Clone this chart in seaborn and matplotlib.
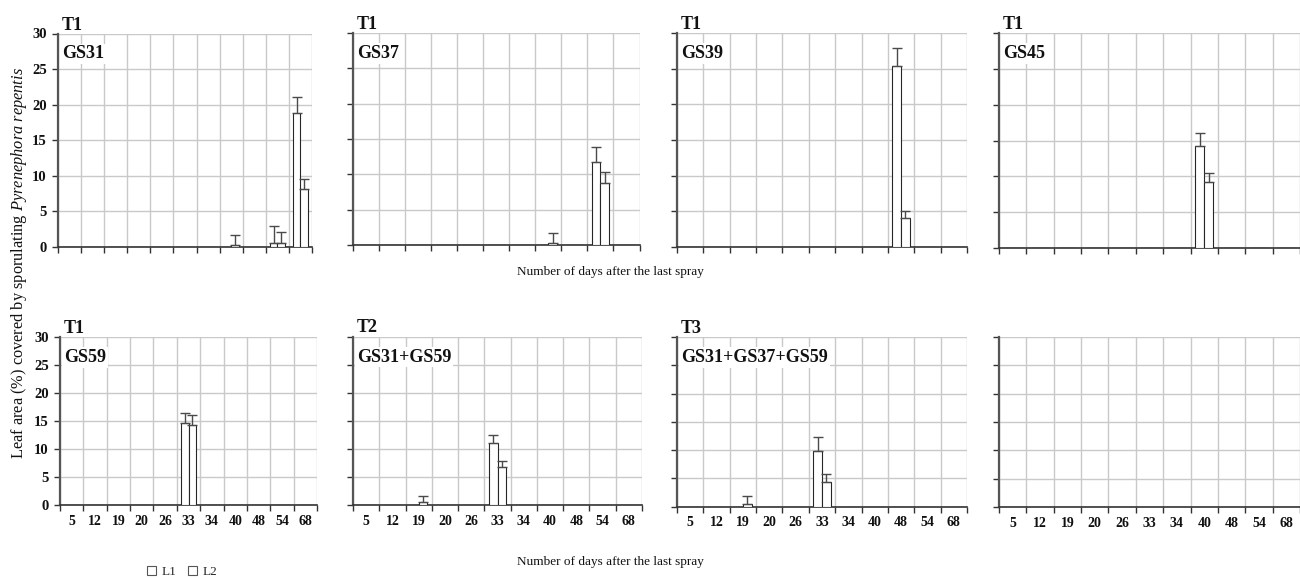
import numpy as np
import pandas as pd
import matplotlib
matplotlib.use("Agg")
import matplotlib.pyplot as plt
from matplotlib.container import BarContainer
import seaborn as sns

# Days after the last spray (categories) and leaf layers
days = ["5", "12", "19", "20", "26", "33", "34", "40", "48", "54", "68"]
leaves = ["L1", "L2"]

# Leaf area (%) covered by sporulating P. repentis, with upper error, per treatment
gs31_l1 = [0, 0, 0, 0, 0, 0, 0, 0, 0, 0.5, 18.8]
gs31_l2 = [0, 0, 0, 0, 0, 0, 0, 0.3, 0, 0.5, 8.1]
gs31_l1_err = [0, 0, 0, 0, 0, 0, 0, 0, 0, 2.5, 2.3]
gs31_l2_err = [0, 0, 0, 0, 0, 0, 0, 1.4, 0, 1.6, 1.5]

gs37_l1 = [0, 0, 0, 0, 0, 0, 0, 0, 0, 11.8, 0]
gs37_l2 = [0, 0, 0, 0, 0, 0, 0, 0.3, 0, 8.8, 0]
gs37_l1_err = [0, 0, 0, 0, 0, 0, 0, 0, 0, 2.1, 0]
gs37_l2_err = [0, 0, 0, 0, 0, 0, 0, 1.4, 0, 1.5, 0]

gs39_l1 = [0, 0, 0, 0, 0, 0, 0, 0, 25.4, 0, 0]
gs39_l2 = [0, 0, 0, 0, 0, 0, 0, 0, 4.0, 0, 0]
gs39_l1_err = [0, 0, 0, 0, 0, 0, 0, 0, 2.5, 0, 0]
gs39_l2_err = [0, 0, 0, 0, 0, 0, 0, 0, 1.1, 0, 0]

gs45_l1 = [0, 0, 0, 0, 0, 0, 0, 14.2, 0, 0, 0]
gs45_l2 = [0, 0, 0, 0, 0, 0, 0, 9.2, 0, 0, 0]
gs45_l1_err = [0, 0, 0, 0, 0, 0, 0, 1.8, 0, 0, 0]
gs45_l2_err = [0, 0, 0, 0, 0, 0, 0, 1.2, 0, 0, 0]

gs59_l1 = [0, 0, 0, 0, 0, 14.6, 0, 0, 0, 0, 0]
gs59_l2 = [0, 0, 0, 0, 0, 14.2, 0, 0, 0, 0, 0]
gs59_l1_err = [0, 0, 0, 0, 0, 1.9, 0, 0, 0, 0, 0]
gs59_l2_err = [0, 0, 0, 0, 0, 1.8, 0, 0, 0, 0, 0]

t2_l1 = [0, 0, 0, 0, 0, 11.1, 0, 0, 0, 0, 0]
t2_l2 = [0, 0, 0.6, 0, 0, 6.7, 0, 0, 0, 0, 0]
t2_l1_err = [0, 0, 0, 0, 0, 1.3, 0, 0, 0, 0, 0]
t2_l2_err = [0, 0, 1.0, 0, 0, 1.1, 0, 0, 0, 0, 0]

t3_l1 = [0, 0, 0, 0, 0, 9.9, 0, 0, 0, 0, 0]
t3_l2 = [0, 0, 0.4, 0, 0, 4.25, 0, 0, 0, 0, 0]
t3_l1_err = [0, 0, 0, 0, 0, 2.4, 0, 0, 0, 0, 0]
t3_l2_err = [0, 0, 1.4, 0, 0, 1.5, 0, 0, 0, 0, 0]

yticks = [0, 5, 10, 15, 20, 25, 30]

panels = [
    ("T1", "GS31", gs31_l1, gs31_l2, gs31_l1_err, gs31_l2_err),
    ("T1", "GS37", gs37_l1, gs37_l2, gs37_l1_err, gs37_l2_err),
    ("T1", "GS39", gs39_l1, gs39_l2, gs39_l1_err, gs39_l2_err),
    ("T1", "GS45", gs45_l1, gs45_l2, gs45_l1_err, gs45_l2_err),
    ("T1", "GS59", gs59_l1, gs59_l2, gs59_l1_err, gs59_l2_err),
    ("T2", "GS31+GS59", t2_l1, t2_l2, t2_l1_err, t2_l2_err),
    ("T3", "GS31+GS37+GS59", t3_l1, t3_l2, t3_l1_err, t3_l2_err),
    None,
]

# axes boxes in pixels: left, top, right, bottom
boxes = [
    (58, 33.5, 312, 247), (353, 33, 639.5, 245), (677, 33, 967, 247), (999, 33, 1300, 248),
    (60, 337, 317, 505), (353, 336.5, 642, 505), (677, 337, 967, 506.5), (999, 337, 1300, 507),
]

W, H = 1300, 579
sns.set_style("white")
plt.rcParams["font.family"] = ["Liberation Serif", "DejaVu Serif"]
plt.rcParams["mathtext.fontset"] = "custom"
plt.rcParams["mathtext.rm"] = "Liberation Serif"
plt.rcParams["mathtext.it"] = "Liberation Serif:italic"

fig = plt.figure(figsize=(W / 100, H / 100), dpi=100)
fig.patch.set_facecolor("white")

grid_c = "#c9c9c9"
axes = []
for k, (panel, (l, t, r, b)) in enumerate(zip(panels, boxes)):
    ax = fig.add_axes([l / W, 1 - b / H, (r - l) / W, (b - t) / H])
    axes.append(ax)
    ax.set_facecolor("white")
    if panel is not None:
        trt, stage, v1, v2, e1, e2 = panel
        df = pd.DataFrame({
            "day": days * 2,
            "leaf": ["L1"] * len(days) + ["L2"] * len(days),
            "value": list(v1) + list(v2),
        })
        sns.barplot(data=df, x="day", y="value", hue="leaf", order=days, hue_order=leaves,
                    palette={"L1": "white", "L2": "white"}, edgecolor="#262626",
                    linewidth=0.8, width=0.66, errorbar=None, legend=(k == 0),
                    ax=ax, zorder=3)
        errs = {"L1": e1, "L2": e2}
        bar_conts = [c for c in ax.containers if isinstance(c, BarContainer)]
        for cont in bar_conts:
            for bar in cont.patches:
                cx = bar.get_x() + bar.get_width() / 2
                idx = int(round(cx))
                leaf = "L1" if cx < idx else "L2"
                err = errs[leaf][idx]
                if err > 0:
                    ax.errorbar(cx, bar.get_height(), yerr=[[0], [err]], fmt="none",
                                ecolor="#4a4a4a", elinewidth=1.0, capsize=3.5,
                                capthick=1.0, zorder=4)
        ax.annotate(trt, xy=(0, 1), xycoords="axes fraction", xytext=(4, 4),
                    textcoords="offset pixels", ha="left", va="baseline",
                    fontsize=13, fontweight="bold", color="#111111")
        ax.annotate(stage, xy=(0, 1), xycoords="axes fraction", xytext=(4, -25),
                    textcoords="offset pixels", ha="left", va="baseline",
                    fontsize=13, fontweight="bold", color="#111111", zorder=5,
                    bbox=dict(boxstyle="square,pad=0.1", fc="white", ec="none"))

    ax.set_xlim(-0.5, len(days) - 0.5)
    ax.set_ylim(0, 30)
    ax.set_xticks(range(len(days)))
    ax.set_xticklabels(days)
    ax.set_xticks(np.arange(-0.5, len(days), 1), minor=True)
    ax.set_yticks(yticks)
    ax.set_axisbelow(True)
    ax.grid(False)
    ax.grid(which="minor", axis="x", color=grid_c, lw=1.0)
    ax.grid(which="major", axis="y", color=grid_c, lw=1.0)
    ax.tick_params(axis="x", which="major", bottom=True, length=0, pad=7,
                   labelsize=10, colors="#111111")
    ax.tick_params(axis="x", which="minor", bottom=True, length=4, width=1.0,
                   color="#333333", direction="out")
    ax.tick_params(axis="y", which="major", left=True, length=4, width=1.0, color="#333333",
                   direction="out", pad=4, labelsize=10.5, labelcolor="#111111")
    for lab in ax.get_xticklabels() + ax.get_yticklabels():
        lab.set_fontweight("bold")
    ax.set_xlabel("")
    ax.set_ylabel("")
    for s in ("top", "right"):
        ax.spines[s].set_visible(False)
    ax.spines["left"].set_color("#555555")
    ax.spines["left"].set_linewidth(1.6)
    ax.spines["bottom"].set_color("#333333")
    ax.spines["bottom"].set_linewidth(1.2)
    if k < 4:
        ax.tick_params(axis="x", labelbottom=False)
    if k % 4 != 0:
        ax.tick_params(axis="y", labelleft=False)

# shared labels
for y in (272, 562):
    fig.text(610 / W, 1 - y / H, "Number of days after the last spray", ha="center",
             va="center", fontsize=9.5, color="#111111")
fig.text(19 / W, 1 - 263 / H,
         "Leaf area (%) covered by sporulating $\\mathit{Pyrenephora\\ repentis}$",
         rotation=90, ha="center", va="center", fontsize=11.8, color="#111111")

sns.move_legend(axes[0], "center", bbox_to_anchor=(182 / W, 1 - 572 / H),
                bbox_transform=fig.transFigure, ncol=2, frameon=False, title=None,
                fontsize=9.5, handlelength=0.7, handleheight=0.7, handletextpad=0.4,
                columnspacing=0.9)
for h in axes[0].get_legend().legend_handles:
    h.set_edgecolor("#555555")
    h.set_linewidth(0.8)

fig.savefig("out.png", dpi=100, facecolor="white")
